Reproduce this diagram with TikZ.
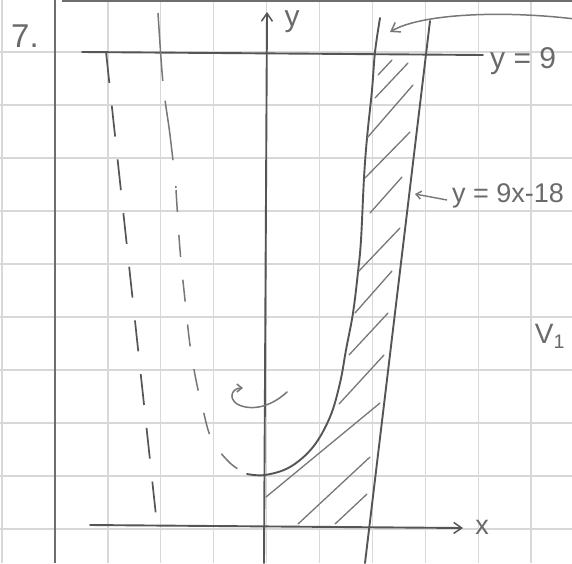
\documentclass[tikz,border=0pt]{standalone}
\usepackage{fontspec}
\setmainfont{Liberation Sans}
\usetikzlibrary{arrows.meta}
\definecolor{pencil}{HTML}{555555}
\definecolor{softpencil}{HTML}{777777}
\definecolor{gridc}{HTML}{D8D8D8}
\definecolor{inkc}{HTML}{6A6A6A}
\begin{document}
\begin{tikzpicture}[x=1pt,y=-1pt,
  gridline/.style={draw=gridc, line width=1.3pt},
  marginline/.style={draw=pencil!85, line width=2pt},
  pen/.style={draw=pencil, line width=1.9pt, line cap=round, line join=round},
  hatchline/.style={draw=softpencil, line width=1.3pt, line cap=round},
  dashline/.style={draw=pencil, line width=1.7pt, dash pattern=on 31pt off 23pt},
  dashcurve/.style={draw=softpencil, line width=1.5pt, dash pattern=on 22pt off 23pt},
  barb/.style={-{Straight Barb[length=8pt,width=11pt,line width=1.5pt]}},
  hand/.style={text=inkc, inner sep=0pt, font=\fontsize{28}{28}\selectfont}
]
\useasboundingbox (0,0) rectangle (572,563);
\fill[white] (0,0) rectangle (572,563);

% graph paper
\foreach \gx in {2.1,107.9,160.8,213.7,266.6,319.5,372.4,425.3,478.2,531.1}
  \draw[gridline] (\gx,0) -- (\gx,563);
\foreach \gy in {52,105,158,211,264,317,370,423,476,529}
  \draw[gridline] (0,\gy) -- (572,\gy);
\draw[marginline] (55,0) -- (55,563);
\draw[marginline] (62,0.8) -- (572,0.8);

% problem number
\node[hand, font=\fontsize{33}{33}\selectfont] (num) at (25,36) {7.};

% axes
\coordinate (ybot) at (264,563);
\coordinate (ytop) at (267,12);
\draw[pen,barb] (ybot) -- (ytop);
\node[hand, font=\fontsize{30}{30}\selectfont] (ylab) at (292,22) {y};
\coordinate (xleft) at (90,525);
\coordinate (xright) at (463,528);
\draw[pen,barb] (xleft) -- (xright);
\node[hand, font=\fontsize{27}{27}\selectfont] (xlab) at (482,527) {x};

% line y = 9
\coordinate (nine1) at (82,52);
\coordinate (nine2) at (483,55);
\draw[pen] (nine1) -- (nine2);
\node[hand, anchor=west, font=\fontsize{30}{30}\selectfont] (ninelab) at (490,61) {y = 9};

% line y = 9x - 18
\coordinate (l1) at (365,563);
\coordinate (l2) at (430,21);
\draw[pen] (l1) -- (l2);

% reflected line (dashed)
\coordinate (d1) at (106,52);
\coordinate (d2) at (157,525);
\draw[dashline] (d1) -- (d2);

% solid curve
\draw[pen] plot[smooth, tension=0.6] coordinates {
  (247,474) (265,475) (290,467) (313,447) (330,417) (340,383) (346,350)
  (353,313) (358,272) (361,240) (364,178) (367,138) (372,90) (375,52) (380,18)};

% reflected curve (dashed)
\draw[dashcurve, dash pattern=on 68pt off 20pt on 60pt off 26pt] plot[smooth, tension=0.6] coordinates {
  (158,13) (163,83) (170,135) (176,188)};
\draw[dashcurve] plot[smooth, tension=0.6] coordinates {
  (176,190) (180,250) (185,300) (190,345) (196,380) (203,410) (212,440) (230,463) (247,474)};

% hatching
\foreach \ax/\ay/\bx/\by in {
  378/75/392/60, 375/98/408/63, 367/138/413/85, 365/178/410/132,
  370/213/402/177, 358/272/400/228, 355/313/392/271, 349/355/388/313,
  339/404/384/355, 266/497/380/403, 298/524/370/457, 335/524/367/494}
  \draw[hatchline] (\ax,\ay) -- (\bx,\by);

% label y = 9x-18 with arrow
\node[hand, anchor=west, font=\fontsize{27}{27}\selectfont] (linelab) at (452,196) {y = 9x-18};
\coordinate (linetip) at (415,194);
\draw[draw=softpencil, line width=1.4pt, -{Straight Barb[length=5pt,width=8pt]}]
  ([xshift=-5pt,yshift=-4pt]linelab.west) -- (linetip);

% arrow from the right to the curve top
\coordinate (rstart) at (575,19);
\coordinate (rtip) at (390,32);
\draw[draw=softpencil, line width=1.5pt, barb] (rstart) .. controls (500,10) and (420,14) .. (rtip);

% rotation curl
\coordinate (c0) at (287,392);
\coordinate (c1) at (243,388);
\draw[draw=softpencil, line width=1.5pt, line cap=round,
      -{Straight Barb[length=5pt,width=8pt]}]
  (c0) .. controls (272,406) and (252,412) .. (237,404)
       .. controls (228,398) and (232,388) .. (c1);

% volume label
\node[hand] (vlab) at (550,336) {V\textsubscript{1}};
\end{tikzpicture}
\end{document}
